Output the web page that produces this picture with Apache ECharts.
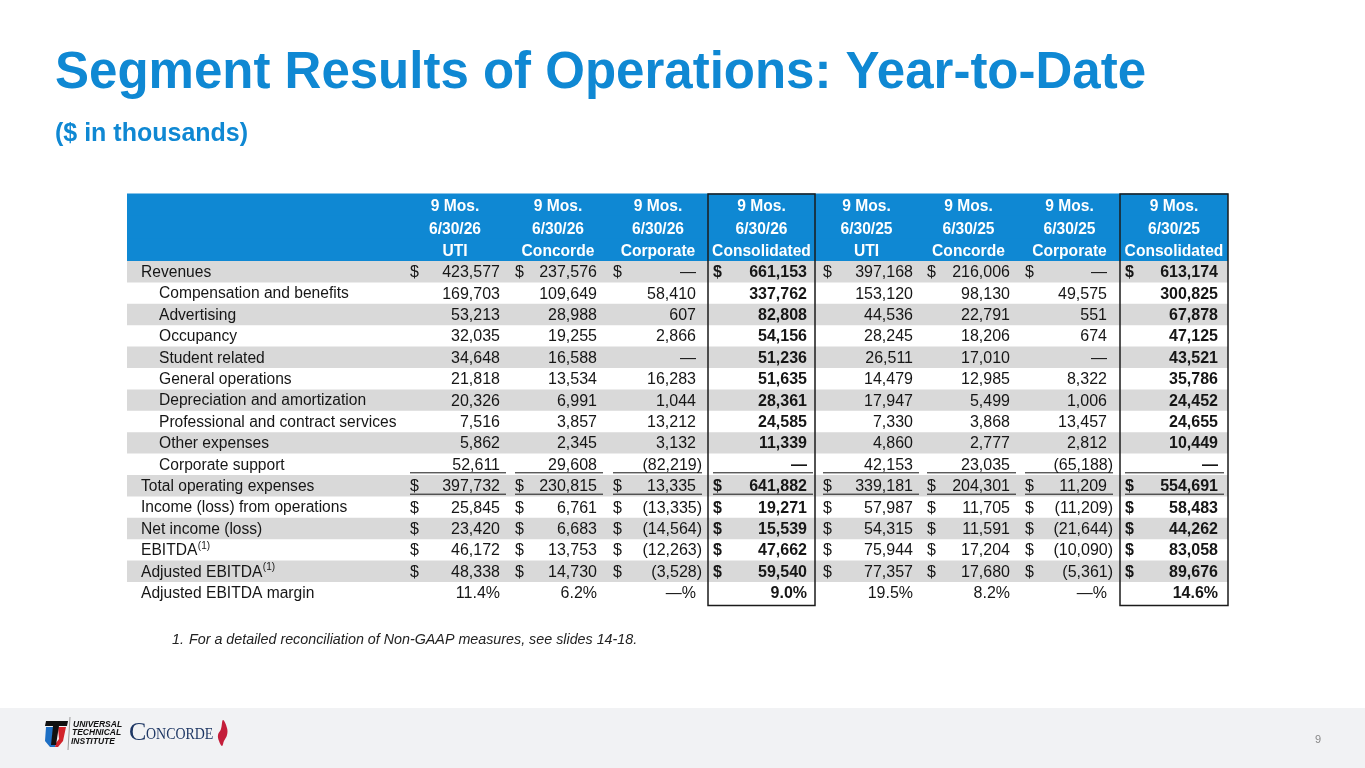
<!DOCTYPE html>
<html lang="en">
<head>
<meta charset="UTF-8">
<title>Segment Results of Operations: Year-to-Date</title>
<script src="https://cdn.jsdelivr.net/npm/echarts@6.0.0/dist/echarts.min.js"></script>
<style>
  html, body { margin: 0; padding: 0; background: #fff; }
  #chart { width: 1365px; height: 768px; }
</style>
</head>
<body>
<div id="chart"></div>
<script>
// ---- data ($ in thousands) ----
const rowLabels = [
  'Revenues', 'Compensation and benefits', 'Advertising', 'Occupancy', 'Student related',
  'General operations', 'Depreciation and amortization', 'Professional and contract services',
  'Other expenses', 'Corporate support', 'Total operating expenses', 'Income (loss) from operations',
  'Net income (loss)', 'EBITDA', 'Adjusted EBITDA', 'Adjusted EBITDA margin'
];
const rowNotes = ['', '', '', '', '', '', '', '', '', '', '', '', '', '(1)', '(1)', ''];
const indented = [false, true, true, true, true, true, true, true, true, true, false, false, false, false, false, false];
const dollarRows = [true, false, false, false, false, false, false, false, false, false, true, true, true, true, true, false];
const underlineRows = [false, false, false, false, false, false, false, false, false, true, true, false, false, false, false, false];
const percentRow = 15;

const headerMos = ['9 Mos.', '9 Mos.', '9 Mos.', '9 Mos.', '9 Mos.', '9 Mos.', '9 Mos.', '9 Mos.'];
const headerPeriods = ['6/30/26', '6/30/26', '6/30/26', '6/30/26', '6/30/25', '6/30/25', '6/30/25', '6/30/25'];
const headerSegments = ['UTI', 'Concorde', 'Corporate', 'Consolidated', 'UTI', 'Concorde', 'Corporate', 'Consolidated'];

// null = "—"
const uti26 = [423577, 169703, 53213, 32035, 34648, 21818, 20326, 7516, 5862, 52611, 397732, 25845, 23420, 46172, 48338, 11.4];
const concorde26 = [237576, 109649, 28988, 19255, 16588, 13534, 6991, 3857, 2345, 29608, 230815, 6761, 6683, 13753, 14730, 6.2];
const corporate26 = [null, 58410, 607, 2866, null, 16283, 1044, 13212, 3132, -82219, 13335, -13335, -14564, -12263, -3528, null];
const consolidated26 = [661153, 337762, 82808, 54156, 51236, 51635, 28361, 24585, 11339, null, 641882, 19271, 15539, 47662, 59540, 9.0];
const uti25 = [397168, 153120, 44536, 28245, 26511, 14479, 17947, 7330, 4860, 42153, 339181, 57987, 54315, 75944, 77357, 19.5];
const concorde25 = [216006, 98130, 22791, 18206, 17010, 12985, 5499, 3868, 2777, 23035, 204301, 11705, 11591, 17204, 17680, 8.2];
const corporate25 = [null, 49575, 551, 674, null, 8322, 1006, 13457, 2812, -65188, 11209, -11209, -21644, -10090, -5361, null];
const consolidated25 = [613174, 300825, 67878, 47125, 43521, 35786, 24452, 24655, 10449, null, 554691, 58483, 44262, 83058, 89676, 14.6];

const columns = [uti26, concorde26, corporate26, consolidated26, uti25, concorde25, corporate25, consolidated25];
const boldCols = [false, false, false, true, false, false, false, true];
const boxCols = [3, 7];

// ---- layout ----
const FONT = "'Liberation Sans', Arial, Helvetica, sans-serif";
const BLUE = '#0f88d3';
const GRAY = '#d9d9d9';
const INK = '#161616';
const HEADER_TOP = 194, BODY_TOP = 261, ROW_H = 21.4;
const TABLE_L = 127, TABLE_R = 1228;
const colEdges = [402, 508, 608, 708, 815, 918, 1019, 1120, 1228];
const dollarX = [410, 515, 613, 713, 823, 927, 1025, 1125];
const valueRightX = [500, 597, 696, 807, 913, 1010, 1107, 1218];
const PAREN = 6;
const LABEL_FONT = '15.6px ' + FONT;
const NUM_SIZE = '16px ';

const measureCtx = document.createElement('canvas').getContext('2d');
function textWidth(t, font) { measureCtx.font = font; return measureCtx.measureText(t).width; }

function fmt(v, r) {
  if (r === percentRow) return v === null ? '—%' : v.toFixed(1) + '%';
  if (v === null) return '—';
  const s = Math.abs(v).toLocaleString('en-US');
  return v < 0 ? '(' + s + ')' : s;
}

function txt(text, x, y, font, fill, align) {
  return {
    type: 'text',
    style: { text: text, x: x, y: y, font: font, fill: fill, align: align, verticalAlign: 'middle' }
  };
}

function renderHeader(params, api) {
  const line = api.value(1);
  const X = v => api.coord([v, line])[0];
  const yc = api.coord([TABLE_L, line])[1];
  const h = api.size([0, 1])[1];
  const lines = [headerMos, headerPeriods, headerSegments][line];
  const children = [{
    type: 'rect',
    shape: { x: X(TABLE_L), y: yc - h / 2 - 0.5, width: X(TABLE_R) - X(TABLE_L), height: h + 1.5 },
    style: { fill: BLUE }
  }];
  lines.forEach((t, c) => {
    children.push(txt(t, (X(colEdges[c]) + X(colEdges[c + 1])) / 2, yc + 2, 'bold 15.6px ' + FONT, '#fff', 'center'));
  });
  return { type: 'group', children: children };
}

function renderRow(params, api) {
  const r = api.value(1);
  const X = v => api.coord([v, r])[0];
  const yc = api.coord([TABLE_L, r])[1];
  const h = api.size([0, 1])[1];
  const ty = yc + 1;
  const children = [];
  if (r % 2 === 0) {
    children.push({
      type: 'rect',
      shape: { x: X(TABLE_L), y: yc - h / 2, width: X(TABLE_R) - X(TABLE_L), height: h },
      style: { fill: GRAY }
    });
  }
  const lx = indented[r] ? 159 : 141;
  children.push(txt(rowLabels[r], X(lx), ty, LABEL_FONT, INK, 'left'));
  if (rowNotes[r]) {
    children.push(txt(rowNotes[r], X(lx) + textWidth(rowLabels[r], LABEL_FONT) + 0.5, ty - 5, '10px ' + FONT, INK, 'left'));
  }
  columns.forEach((col, c) => {
    const font = (boldCols[c] ? 'bold ' : '') + NUM_SIZE + FONT;
    const v = col[r];
    const s = fmt(v, r);
    const neg = r !== percentRow && v !== null && v < 0;
    if (dollarRows[r]) children.push(txt('$', X(dollarX[c]), ty, font, INK, 'left'));
    children.push(txt(s, X(valueRightX[c] + (neg ? PAREN : 0)), ty, font, INK, 'right'));
    if (underlineRows[r]) {
      children.push({
        type: 'line',
        shape: { x1: X(dollarX[c]), y1: yc + 8.5, x2: X(valueRightX[c] + PAREN), y2: yc + 8.5 },
        style: { stroke: INK, lineWidth: 1 }
      });
    }
  });
  return { type: 'group', children: children };
}

function renderBox(params, api) {
  const c = api.value(0);
  const x1 = api.coord([colEdges[c], 0])[0];
  const x2 = api.coord([colEdges[c + 1], 0])[0];
  const h = api.size([0, 1])[1];
  const top = api.coord([TABLE_L, 0])[1] - h / 2 - (BODY_TOP - HEADER_TOP);
  const bottom = api.coord([TABLE_L, rowLabels.length - 1])[1] + h / 2 + 2;
  return {
    type: 'rect',
    shape: { x: x1, y: top, width: x2 - x1, height: bottom - top },
    style: { fill: null, stroke: '#1b1b1b', lineWidth: 1.5 }
  };
}

const chart = echarts.init(document.getElementById('chart'));

chart.setOption({
  animation: false,
  backgroundColor: '#fff',
  grid: [
    { left: TABLE_L, width: TABLE_R - TABLE_L, top: HEADER_TOP, height: BODY_TOP - HEADER_TOP },
    { left: TABLE_L, width: TABLE_R - TABLE_L, top: BODY_TOP, height: ROW_H * rowLabels.length }
  ],
  xAxis: [
    { type: 'value', gridIndex: 0, min: TABLE_L, max: TABLE_R, show: false },
    { type: 'value', gridIndex: 1, min: TABLE_L, max: TABLE_R, show: false }
  ],
  yAxis: [
    { type: 'category', gridIndex: 0, data: ['mos', 'period', 'segment'], inverse: true, show: false },
    { type: 'category', gridIndex: 1, data: rowLabels, inverse: true, show: false }
  ],
  series: [
    {
      type: 'custom', name: 'header', xAxisIndex: 0, yAxisIndex: 0, silent: true,
      renderItem: renderHeader,
      data: [[TABLE_L, 0], [TABLE_L, 1], [TABLE_L, 2]]
    },
    {
      type: 'custom', name: 'rows', xAxisIndex: 1, yAxisIndex: 1, silent: true,
      renderItem: renderRow,
      data: rowLabels.map((_, i) => [TABLE_L, i])
    },
    {
      type: 'custom', name: 'boxes', xAxisIndex: 1, yAxisIndex: 1, silent: true, z: 5,
      renderItem: renderBox,
      data: boxCols.map(c => [c, 0])
    }
  ],
  graphic: [
    { type: 'text', left: 55, top: 48, style: { text: 'Segment Results of Operations: Year-to-Date', font: 'bold 51px ' + FONT, fill: BLUE } },
    { type: 'text', left: 55, top: 122, style: { text: '($ in thousands)', font: 'bold 25px ' + FONT, fill: BLUE } },
    { type: 'text', left: 172, top: 633, style: { text: '1.', font: 'italic 14.3px ' + FONT, fill: '#222' } },
    { type: 'text', left: 189, top: 633, style: { text: 'For a detailed reconciliation of Non-GAAP measures, see slides 14-18.', font: 'italic 14.3px ' + FONT, fill: '#222' } },
    // footer band
    { type: 'rect', shape: { x: 0, y: 708, width: 1365, height: 60 }, style: { fill: '#f1f2f4' } },
    // UTI mark
    { type: 'polygon', shape: { points: [[46, 727], [54, 727], [52, 739], [56, 743], [55, 747], [50, 747], [45, 741]] }, style: { fill: '#1d6fc4' } },
    { type: 'polygon', shape: { points: [[58, 727], [66, 727], [63, 741], [58, 747], [55, 747], [56, 743], [59, 739]] }, style: { fill: '#d2232a' } },
    { type: 'polygon', shape: { points: [[46, 721], [68, 721], [67, 726], [45, 726]] }, style: { fill: '#111' } },
    { type: 'polygon', shape: { points: [[53, 726], [59, 726], [56, 745], [51, 745]] }, style: { fill: '#111' } },
    { type: 'line', shape: { x1: 70, y1: 717, x2: 68, y2: 750 }, style: { stroke: '#9a9a9a', lineWidth: 1 } },
    { type: 'text', left: 73, top: 720, style: { text: 'UNIVERSAL', font: 'italic bold 8.5px ' + FONT, fill: '#111' } },
    { type: 'text', left: 72, top: 728.5, style: { text: 'TECHNICAL', font: 'italic bold 8.5px ' + FONT, fill: '#111' } },
    { type: 'text', left: 71, top: 737, style: { text: 'INSTITUTE', font: 'italic bold 8.5px ' + FONT, fill: '#111' } },
    // Concorde mark
    { type: 'text', left: 129, top: 720, style: { text: 'C', font: '26px "Liberation Serif", "DejaVu Serif", serif', fill: '#1e3764' } },
    { type: 'text', x: 146, y: 735, scaleX: 0.82, originX: 0, originY: 0, style: { text: 'ONCORDE', x: 0, y: 0, font: '17px "Liberation Serif", "DejaVu Serif", serif', fill: '#1e3764', verticalAlign: 'middle' } },
    { type: 'polygon', shape: { points: [[223, 720], [227, 728], [227, 735], [224, 741], [222, 746], [219, 741], [218, 735], [221, 729]], smooth: 0.4 }, style: { fill: '#c41e3a' } },
    // page number
    { type: 'text', left: 1315, top: 734, style: { text: '9', font: '11px ' + FONT, fill: '#888' } }
  ]
});
</script>
</body>
</html>
